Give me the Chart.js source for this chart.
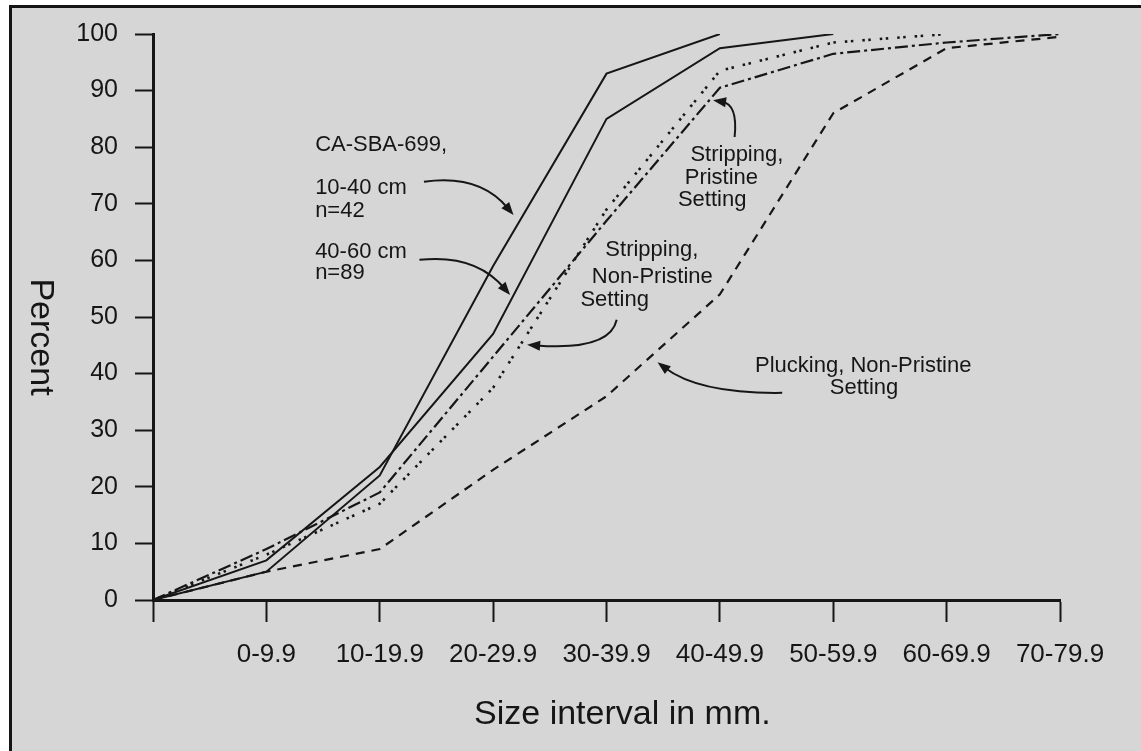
<!DOCTYPE html>
<html>
<head>
<meta charset="utf-8">
<script src="https://cdn.jsdelivr.net/npm/chart.js@4.4.0/dist/chart.umd.min.js"></script>
<style>
  html, body { margin: 0; padding: 0; background: #fff; }
  #hoja {
    position: absolute; left: 9px; top: 5px; width: 1129px; height: 743px;
    background: #d6d6d6; border-left: 3px solid #151515; border-top: 3px solid #151515;
  }
  #contenedor { position: absolute; left: 0; top: 0; width: 1141px; height: 751px; }
</style>
</head>
<body>
<div id="hoja"></div>
<div id="contenedor"><canvas id="graficoTamanos"></canvas></div>
<script>
// categorias del eje x (el primer punto es el origen)
const categorias = ['', '0-9.9', '10-19.9', '20-29.9', '30-39.9', '40-49.9', '50-59.9', '60-69.9', '70-79.9'];
const marcasY = [0, 10, 20, 30, 40, 50, 60, 70, 80, 90, 100];

// porcentaje acumulado por serie
const sba10a40 = [0, 5, 22, 59, 93, 100, null, null, null];
const sba40a60 = [0, 7, 23.5, 47, 85, 97.5, 100, null, null];
const strippingNoPristino = [0, 8, 17, 37.5, 69, 93.5, 98.5, 100, null];
const strippingPristino = [0, 9, 19, 43, 67, 90.5, 96.5, 98.5, 100];
const pluckingNoPristino = [0, 5, 9, 23, 36, 54, 86, 97.5, 99.5];

// textos y flechas en unidades de los ejes
const notasTexto = [
  { texto: 'CA-SBA-699,', x: 1.43, y: 80.4 },
  { texto: '10-40 cm', x: 1.43, y: 72.8 },
  { texto: 'n=42', x: 1.43, y: 68.7 },
  { texto: '40-60 cm', x: 1.43, y: 61.5 },
  { texto: 'n=89', x: 1.43, y: 57.8 },
  { texto: 'Stripping,', x: 3.99, y: 61.8 },
  { texto: 'Non-Pristine', x: 3.87, y: 57.1 },
  { texto: 'Setting', x: 3.77, y: 53.0 },
  { texto: 'Stripping,', x: 4.74, y: 78.6 },
  { texto: 'Pristine', x: 4.69, y: 74.6 },
  { texto: 'Setting', x: 4.63, y: 70.7 },
  { texto: 'Plucking, Non-Pristine', x: 5.31, y: 41.3 },
  { texto: 'Setting', x: 5.97, y: 37.5 }
];
const flechas = [
  { desde: [2.39, 73.9], control: [2.88, 75.3], hasta: [3.18, 68.0] },
  { desde: [2.35, 60.1], control: [2.84, 61.2], hasta: [3.15, 53.9] },
  { desde: [4.09, 49.5], control: [4.03, 44.0], hasta: [3.30, 45.1] },
  { desde: [5.13, 81.8], control: [5.16, 87.6], hasta: [4.94, 88.3] },
  { desde: [5.55, 36.6], control: [4.82, 36.4], hasta: [4.45, 42.0] }
];

const FUENTE = '"Liberation Sans", Arial, Helvetica, sans-serif';
const NEGRO = '#161616';

const anotaciones = {
  id: 'anotaciones',
  afterDraw(chart) {
    const { ctx, chartArea } = chart;
    const ex = chart.scales.x;
    const ey = chart.scales.y;
    ctx.save();
    ctx.fillStyle = NEGRO;
    ctx.strokeStyle = NEGRO;
    ctx.font = '22px ' + FUENTE;
    ctx.textAlign = 'left';
    ctx.textBaseline = 'middle';
    notasTexto.forEach(n => {
      ctx.fillText(n.texto, ex.getPixelForValue(n.x), ey.getPixelForValue(n.y));
    });

    ctx.lineWidth = 2;
    flechas.forEach(f => {
      const x0 = ex.getPixelForValue(f.desde[0]), y0 = ey.getPixelForValue(f.desde[1]);
      const cx = ex.getPixelForValue(f.control[0]), cy = ey.getPixelForValue(f.control[1]);
      const x1 = ex.getPixelForValue(f.hasta[0]), y1 = ey.getPixelForValue(f.hasta[1]);
      const ang = Math.atan2(y1 - cy, x1 - cx);
      const largo = 13;
      ctx.beginPath();
      ctx.moveTo(x0, y0);
      ctx.quadraticCurveTo(cx, cy, x1 - Math.cos(ang) * largo * 0.7, y1 - Math.sin(ang) * largo * 0.7);
      ctx.stroke();
      ctx.beginPath();
      ctx.moveTo(x1, y1);
      ctx.lineTo(x1 - Math.cos(ang) * largo - Math.sin(ang) * 5, y1 - Math.sin(ang) * largo + Math.cos(ang) * 5);
      ctx.lineTo(x1 - Math.cos(ang) * largo + Math.sin(ang) * 5, y1 - Math.sin(ang) * largo - Math.cos(ang) * 5);
      ctx.closePath();
      ctx.fill();
    });

    // titulos de los ejes
    ctx.font = '34px ' + FUENTE;
    ctx.textAlign = 'center';
    ctx.textBaseline = 'middle';
    ctx.fillText('Size interval in mm.', ex.getPixelForValue(4.14), chartArea.bottom + 115);
    ctx.translate(40, (chartArea.top + chartArea.bottom) / 2 + 20);
    ctx.rotate(Math.PI / 2);
    ctx.fillText('Percent', 0, 0);
    ctx.restore();
  }
};

function serie(nombre, valores, trazo, ancho) {
  return {
    label: nombre,
    data: valores,
    borderColor: NEGRO,
    borderWidth: ancho,
    borderDash: trazo,
    borderCapStyle: 'butt',
    pointRadius: 0,
    fill: false,
    tension: 0,
    spanGaps: false
  };
}

const data = {
  labels: categorias,
  datasets: [
    serie('10-40 cm, n=42', sba10a40, [], 2),
    serie('40-60 cm, n=89', sba40a60, [], 2),
    serie('Stripping, Non-Pristine Setting', strippingNoPristino, [2.5, 3.5, 2.5, 9], 2.6),
    serie('Stripping, Pristine Setting', strippingPristino, [13, 4, 3, 4], 2.2),
    serie('Plucking, Non-Pristine Setting', pluckingNoPristino, [9, 7], 2.2)
  ]
};

const config = {
  type: 'line',
  data: data,
  options: {
    responsive: true,
    maintainAspectRatio: false,
    animation: false,
    layout: { padding: { top: 34, right: 81, left: 0, bottom: 0 } },
    plugins: {
      legend: { display: false },
      tooltip: { enabled: false }
    },
    scales: {
      x: {
        type: 'category',
        offset: false,
        afterFit(scale) { scale.height = 151; },
        grid: {
          display: true, drawOnChartArea: false, drawTicks: true, offset: false,
          tickLength: 22, tickWidth: 2, tickColor: NEGRO
        },
        border: { display: true, color: NEGRO, width: 3 },
        ticks: {
          color: NEGRO, padding: 17, maxRotation: 0, autoSkip: false,
          font: { family: FUENTE, size: 26 }
        }
      },
      y: {
        min: 0,
        max: 100,
        afterFit(scale) { scale.width = 153; },
        afterBuildTicks(scale) { scale.ticks = marcasY.map(v => ({ value: v })); },
        grid: {
          display: true, drawOnChartArea: false, drawTicks: true,
          tickLength: 18, tickWidth: 2, tickColor: NEGRO
        },
        border: { display: true, color: NEGRO, width: 3 },
        ticks: {
          color: NEGRO, padding: 17,
          font: { family: FUENTE, size: 25 }
        }
      }
    }
  },
  plugins: [anotaciones]
};

window.addEventListener('DOMContentLoaded', () => {
  const ctx = document.getElementById('graficoTamanos').getContext('2d');
  new Chart(ctx, config);
});
</script>
</body>
</html>
